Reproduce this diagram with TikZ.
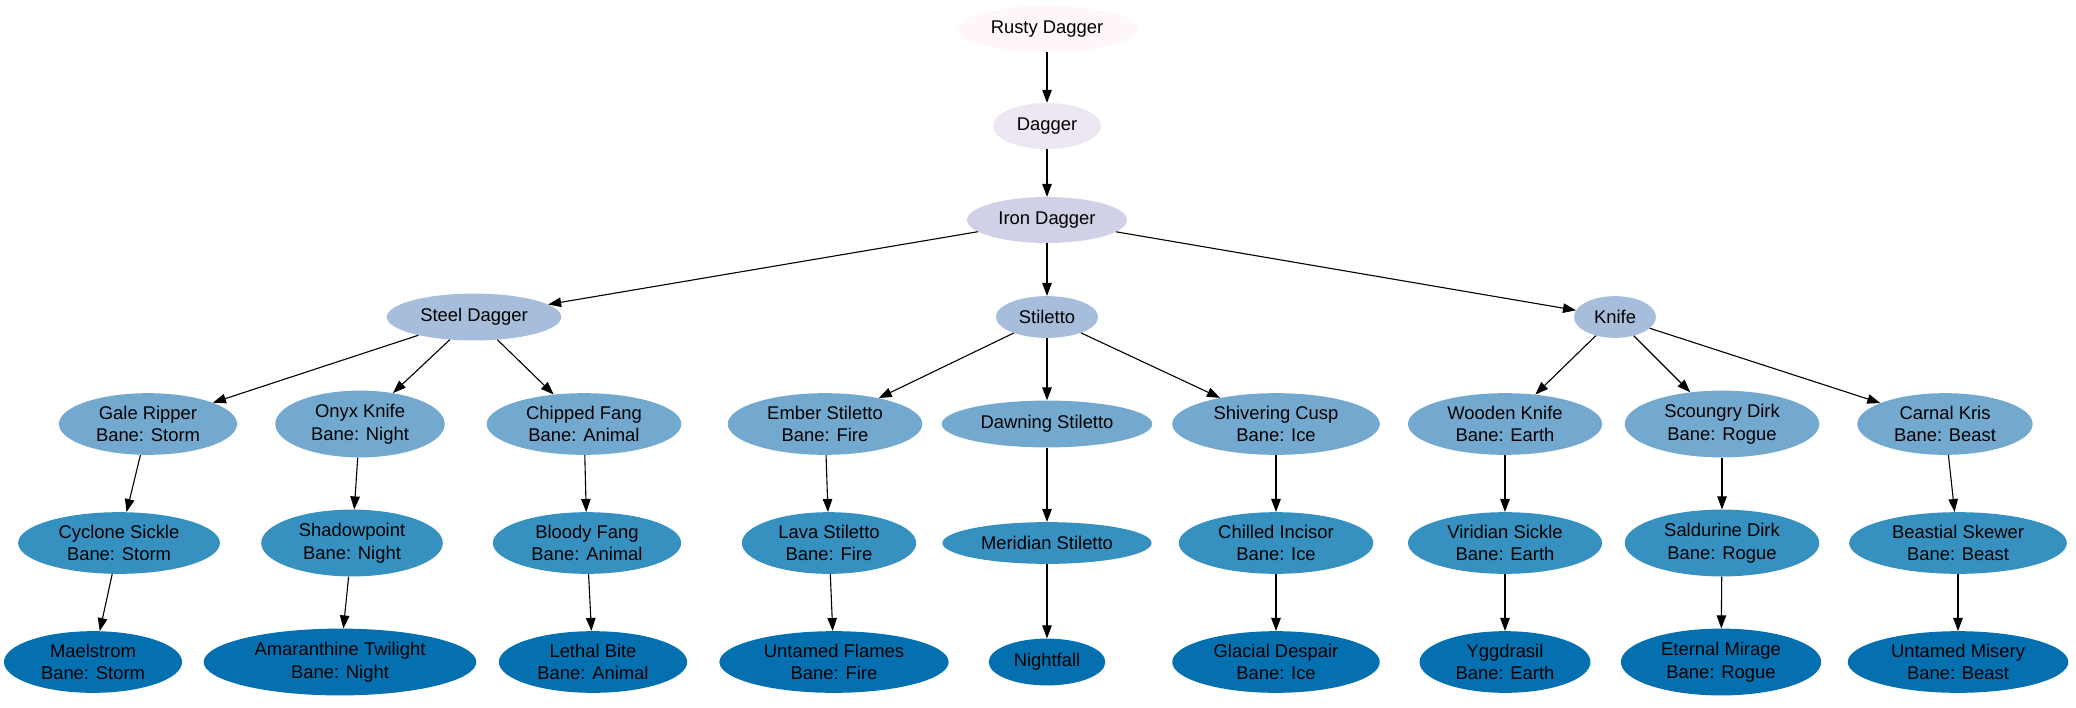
\documentclass[tikz,border=0pt]{standalone}
\usepackage{fontspec}
\setmainfont{Liberation Sans}
\usetikzlibrary{shapes.geometric, arrows.meta, positioning}

\definecolor{pu1}{HTML}{FFF7FB}
\definecolor{pu2}{HTML}{ECE7F2}
\definecolor{pu3}{HTML}{D0D1E6}
\definecolor{pu4}{HTML}{A6BDDB}
\definecolor{pu5}{HTML}{74A9CF}
\definecolor{pu6}{HTML}{3690C0}
\definecolor{pu7}{HTML}{0570B0}

\begin{document}
\begin{tikzpicture}[
						x=1pt, y=-1pt,
						every node/.style = {ellipse, align=center, font=\fontsize{18.4}{22.5}\selectfont},
						one/.style = {inner xsep=8pt, inner ysep=8pt},
						two/.style = {inner xsep=11pt, inner ysep=3.8pt},
						lv1/.style = {one, fill=pu1},
						lv2/.style = {one, fill=pu2},
						lv3/.style = {one, fill=pu3},
						lv4/.style = {one, fill=pu4},
						lv5/.style = {two, fill=pu5},
						lv6/.style = {two, fill=pu6},
						lv7/.style = {two, fill=pu7},
						edge/.style = {-{Triangle[length=13pt, width=9.5pt]}, line width=1.1pt}
					]
\useasboundingbox (0,0) rectangle (2076,707);

\node[lv1] (rusty) at (1047,29) {Rusty Dagger};
\node[lv2] (dagger) at (1047,126) {Dagger};
\node[lv3] (iron) at (1047,220) {Iron Dagger};

\node[lv4] (steel) at (474,317) {Steel Dagger};
\node[lv4] (stiletto) at (1047,317) {Stiletto};
\node[lv4] (knife) at (1615,317) {Knife};

\node[lv5] (gale) at (148,424) {Gale Ripper\\Bane: Storm};
\node[lv5] (onyx) at (360,424) {Onyx Knife\\Bane: Night};
\node[lv5] (chipped) at (584,424) {Chipped Fang\\Bane: Animal};
\node[lv5] (ember) at (825,424) {Ember Stiletto\\Bane: Fire};
\node[lv5, one] (dawning) at (1047,424) {Dawning Stiletto};
\node[lv5] (shivering) at (1276,424) {Shivering Cusp\\Bane: Ice};
\node[lv5] (wooden) at (1505,424) {Wooden Knife\\Bane: Earth};
\node[lv5] (scoungry) at (1722,424) {Scoungry Dirk\\Bane: Rogue};
\node[lv5] (carnal) at (1945,424) {Carnal Kris\\Bane: Beast};

\node[lv6] (cyclone) at (119,543) {Cyclone Sickle\\Bane: Storm};
\node[lv6] (shadow) at (352,543) {Shadowpoint\\Bane: Night};
\node[lv6] (bloody) at (587,543) {Bloody Fang\\Bane: Animal};
\node[lv6] (lava) at (829,543) {Lava Stiletto\\Bane: Fire};
\node[lv6, one] (meridian) at (1047,543) {Meridian Stiletto};
\node[lv6] (chilled) at (1276,543) {Chilled Incisor\\Bane: Ice};
\node[lv6] (viridian) at (1505,543) {Viridian Sickle\\Bane: Earth};
\node[lv6] (saldurine) at (1722,543) {Saldurine Dirk\\Bane: Rogue};
\node[lv6] (beastial) at (1958,543) {Beastial Skewer\\Bane: Beast};

\node[lv7] (maelstrom) at (93,662) {Maelstrom\\Bane: Storm};
\node[lv7] (amaranth) at (340,662) {Amaranthine Twilight\\Bane: Night};
\node[lv7] (lethal) at (593,662) {Lethal Bite\\Bane: Animal};
\node[lv7] (flames) at (834,662) {Untamed Flames\\Bane: Fire};
\node[lv7, one] (nightfall) at (1047,662) {Nightfall};
\node[lv7] (glacial) at (1276,662) {Glacial Despair\\Bane: Ice};
\node[lv7] (yggdrasil) at (1505,662) {Yggdrasil\\Bane: Earth};
\node[lv7] (mirage) at (1721,662) {Eternal Mirage\\Bane: Rogue};
\node[lv7] (misery) at (1958,662) {Untamed Misery\\Bane: Beast};

\draw[edge] (rusty) -- (dagger);
\draw[edge] (dagger) -- (iron);
\draw[edge] (iron) -- (steel);
\draw[edge] (iron) -- (stiletto);
\draw[edge] (iron) -- (knife);
\draw[edge] (steel) -- (gale);
\draw[edge] (steel) -- (onyx);
\draw[edge] (steel) -- (chipped);
\draw[edge] (stiletto) -- (ember);
\draw[edge] (stiletto) -- (dawning);
\draw[edge] (stiletto) -- (shivering);
\draw[edge] (knife) -- (wooden);
\draw[edge] (knife) -- (scoungry);
\draw[edge] (knife) -- (carnal);
\draw[edge] (gale) -- (cyclone);
\draw[edge] (onyx) -- (shadow);
\draw[edge] (chipped) -- (bloody);
\draw[edge] (ember) -- (lava);
\draw[edge] (dawning) -- (meridian);
\draw[edge] (shivering) -- (chilled);
\draw[edge] (wooden) -- (viridian);
\draw[edge] (scoungry) -- (saldurine);
\draw[edge] (carnal) -- (beastial);
\draw[edge] (cyclone) -- (maelstrom);
\draw[edge] (shadow) -- (amaranth);
\draw[edge] (bloody) -- (lethal);
\draw[edge] (lava) -- (flames);
\draw[edge] (meridian) -- (nightfall);
\draw[edge] (chilled) -- (glacial);
\draw[edge] (viridian) -- (yggdrasil);
\draw[edge] (saldurine) -- (mirage);
\draw[edge] (beastial) -- (misery);
\end{tikzpicture}
\end{document}
